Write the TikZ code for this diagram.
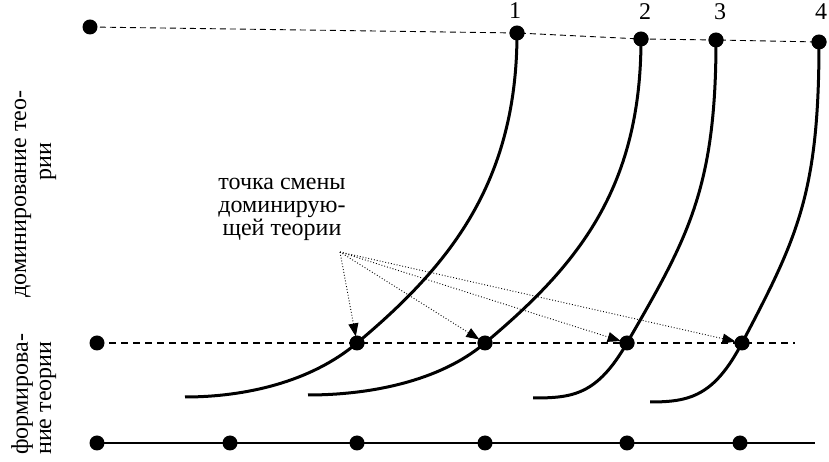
\documentclass[tikz,border=0pt]{standalone}
\usepackage{fontspec}
\setmainfont{Liberation Serif}
\usetikzlibrary{arrows.meta}
\begin{document}
\begin{tikzpicture}[x=1pt,y=1pt,
  dot/.style={circle,fill=black,inner sep=0pt,minimum width=15pt,minimum height=14pt},
  topline/.style={line width=0.9pt,dash pattern=on 6pt off 4pt},
  midline/.style={line width=1.3pt,dash pattern=on 7pt off 5pt},
  baseline/.style={line width=1.3pt},
  curve/.style={line width=3pt},
  pointer/.style={line width=0.9pt,dotted,-{Triangle[length=13pt,width=10pt]},shorten >=-1pt},
  lbl/.style={font=\fontsize{24}{23}\selectfont,inner sep=0pt},
  side/.style={font=\fontsize{24}{23}\selectfont,inner sep=0pt,rotate=90}]
\useasboundingbox (0,0) rectangle (829,462);
% top dots
\node[dot] (A0) at (90,435) {};
\node[dot] (A1) at (517,429) {};
\node[dot] (A2) at (641,423) {};
\node[dot] (A3) at (716,422) {};
\node[dot] (A4) at (819,420) {};
% middle dots
\node[dot] (M0) at (97,119) {};
\node[dot] (M1) at (357,119) {};
\node[dot] (M2) at (485,119) {};
\node[dot] (M3) at (627,119) {};
\node[dot] (M4) at (742,119) {};
\coordinate (Mend) at (795,119);
% bottom dots
\node[dot] (B0) at (97,19) {};
\node[dot] (B1) at (230,19) {};
\node[dot] (B2) at (357,19) {};
\node[dot] (B3) at (485,19) {};
\node[dot] (B4) at (627,19) {};
\node[dot] (B5) at (740,19) {};
\coordinate (Bend) at (815,19);
% curve ends
\coordinate (E1) at (185,65);
\coordinate (E2) at (308,67);
\coordinate (E3) at (533,64);
\coordinate (E4) at (650,60);
% lines
\draw[topline] (A0.center) -- (A1.center) -- (A2.center) -- (A3.center) -- (A4.center);
\draw[midline] (M0.center) -- (M1.center) -- (M2.center) -- (M3.center) -- (M4.center) -- (Mend);
\draw[baseline] (B0.center) -- (B1.center) -- (B2.center) -- (B3.center) -- (B4.center) -- (B5.center) -- (Bend);
% curves
\draw[curve] (A1.center) .. controls +(0,-150) and +(92,77) .. (M1.center)
  .. controls +(-46,-39) and +(60,0) .. (E1);
\draw[curve] (A2.center) .. controls +(0,-150) and +(92,77) .. (M2.center)
  .. controls +(-46,-39) and +(60,0) .. (E2);
\draw[curve] (A3.center) .. controls +(0,-150) and +(60,104) .. (M3.center)
  .. controls +(-30,-52) and +(40,0) .. (E3);
\draw[curve] (A4.center) .. controls +(0,-150) and +(56,106) .. (M4.center)
  .. controls +(-28,-53) and +(40,0) .. (E4);
% redraw dots on top
\foreach \n in {A1,A2,A3,A4,M1,M2,M3,M4} \fill (\n) ellipse (7.5pt and 7pt);
% labels
\node[lbl] (L1) at (515,451) {1};
\node[lbl] (L2) at (645,450) {2};
\node[lbl] (L3) at (720,450) {3};
\node[lbl] (L4) at (821,450) {4};
% annotation
\node[lbl,align=center] (T) at (282,253) {точка смены\\доминирую-\\щей теории};
\coordinate (O) at (340,210);
\draw[pointer] (O) -- (M1);
\draw[pointer] (O) -- (M2);
\draw[pointer] (O) -- (M3);
\draw[pointer] (O) -- (M4);
% side texts
\node[side] (S1) at (23,268) {доминирование тео-};
\node[side] (S2) at (48,300) {рии};
\node[side,anchor=west] (S3) at (22,7) {формирова-};
\node[side,anchor=west] (S4) at (48,7) {ние теории};
\end{tikzpicture}
\end{document}
